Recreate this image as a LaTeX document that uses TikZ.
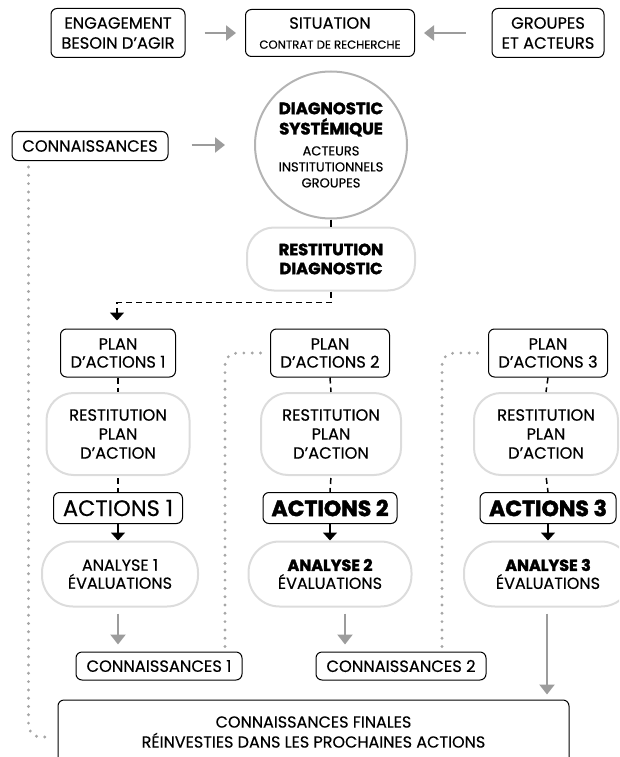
\documentclass[tikz,border=0pt]{standalone}
\usepackage{fontspec}
\setmainfont{Poppins}[UprightFeatures={FakeBold=0.4}, BoldFeatures={FakeBold=2}]
\usetikzlibrary{arrows.meta,shapes.geometric}
\definecolor{arrgray}{HTML}{9C9C9C}
\definecolor{dotgray}{HTML}{A6A6A6}
\definecolor{ringgray}{HTML}{B4B4B4}
\definecolor{softgray}{HTML}{DCDCDC}
\begin{document}
\begin{tikzpicture}[x=1pt,y=-1pt,
  bbox/.style={draw=black, line width=1pt, rounded corners=6pt, align=center, inner sep=0pt, font=\fontsize{16.3}{20}\selectfont},
  lbox/.style={draw=softgray, line width=2pt, rounded corners=27pt, align=center, inner sep=0pt, font=\fontsize{16.3}{19}\selectfont},
  ring/.style={ellipse, draw=ringgray, line width=2pt, align=center, inner sep=0pt},
  grayarrow/.style={draw=arrgray, line width=2.4pt, -{Triangle[length=10pt,width=15pt]}},
  blackarrow/.style={draw=black, line width=1.5pt, -{Triangle[length=8pt,width=14pt]}},
  dashline/.style={draw=black, line width=1.5pt, dash pattern=on 6pt off 4pt},
  dotline/.style={draw=dotgray, line width=3.2pt, dash pattern=on 0pt off 8.3pt, line cap=round, rounded corners=12pt}
]
\useasboundingbox (0,0) rectangle (619,757);
\clip (0,0) rectangle (619,757);

% top row
\node[bbox, minimum width=134pt, minimum height=49pt] (eng) at (118,33) {ENGAGEMENT\\BESOIN D’AGIR};
\node[bbox, minimum width=169pt, minimum height=47pt] (sit) at (330,33) {SITUATION\\\fontsize{11.7}{12}\selectfont CONTRAT DE RECHERCHE};
\node[bbox, minimum width=112pt, minimum height=49pt] (grp) at (548,33) {GROUPES\\ET ACTEURS};

% diagnostic
\node[bbox, minimum width=156pt, minimum height=29pt] (conn) at (90,146) {CONNAISSANCES};
\node[ring, minimum width=152pt, minimum height=147pt, font=\fontsize{13}{16}\selectfont] (diag) at (331,145)
  {\textbf{\fontsize{16.5}{19}\selectfont DIAGNOSTIC}\\[3pt]\textbf{\fontsize{16.5}{19}\selectfont SYSTÉMIQUE}\\[5pt]ACTEURS\\INSTITUTIONNELS\\GROUPES};
\node[lbox, minimum width=168pt, minimum height=63pt, font=\bfseries\fontsize{16.3}{19}\selectfont] (restd) at (331,259) {RESTITUTION\\DIAGNOSTIC};

% columns
\node[bbox, minimum width=115pt, minimum height=48pt, font=\fontsize{16.3}{18}\selectfont] (plan1) at (118,353) {PLAN\\D’ACTIONS 1};
\node[bbox, minimum width=119pt, minimum height=48pt, font=\fontsize{16.3}{18}\selectfont] (plan2) at (330,353) {PLAN\\D’ACTIONS 2};
\node[bbox, minimum width=119pt, minimum height=48pt, font=\fontsize{16.3}{18}\selectfont] (plan3) at (548,353) {PLAN\\D’ACTIONS 3};

\node[lbox, minimum width=143pt, minimum height=82pt] (rest1) at (118,434) {RESTITUTION\\PLAN\\D’ACTION};
\node[lbox, minimum width=140pt, minimum height=82pt] (rest2) at (331,434) {RESTITUTION\\PLAN\\D’ACTION};
\node[lbox, minimum width=144pt, minimum height=82pt] (rest3) at (546,434) {RESTITUTION\\PLAN\\D’ACTION};

\node[bbox, minimum width=129pt, minimum height=31pt, font=\fontsize{22.5}{24}\selectfont] (act1) at (118,508) {ACTIONS 1};
\node[bbox, minimum width=134pt, minimum height=31pt, font=\bfseries\fontsize{22}{24}\selectfont] (act2) at (330,508) {ACTIONS 2};
\node[bbox, minimum width=136pt, minimum height=31pt, font=\bfseries\fontsize{22}{24}\selectfont] (act3) at (548,508) {ACTIONS 3};

\node[lbox, minimum width=156pt, minimum height=65pt, rounded corners=31pt, font=\fontsize{16}{18}\selectfont] (ana1) at (120,574) {ANALYSE 1\\ÉVALUATIONS};
\node[lbox, minimum width=163pt, minimum height=65pt, rounded corners=31pt, font=\fontsize{16}{18}\selectfont] (ana2) at (330,574) {\textbf{ANALYSE 2}\\ÉVALUATIONS};
\node[lbox, minimum width=168pt, minimum height=65pt, rounded corners=31pt, font=\fontsize{16}{18}\selectfont] (ana3) at (548,574) {\textbf{ANALYSE 3}\\ÉVALUATIONS};

\node[bbox, minimum width=166pt, minimum height=28pt, font=\fontsize{16.3}{18}\selectfont] (conn1) at (159,666) {CONNAISSANCES 1};
\node[bbox, minimum width=170pt, minimum height=28pt, font=\fontsize{16.3}{18}\selectfont] (conn2) at (401,666) {CONNAISSANCES 2};

\node[bbox, minimum width=511pt, minimum height=64pt, font=\fontsize{16}{20}\selectfont] (final) at (313.5,732) {CONNAISSANCES FINALES\\RÉINVESTIES DANS LES PROCHAINES ACTIONS};

% connectors: top row
\draw[grayarrow] ([xshift=19pt]eng.east) -- ([xshift=-9pt]sit.west);
\draw[grayarrow] ([xshift=-26pt]grp.west) -- ([xshift=9pt]sit.east);
\draw[grayarrow] ([xshift=23pt,yshift=1pt]conn.east) -- ([xshift=-29pt]diag.west);

% diagnostic chain
\draw[black, line width=1.5pt] (diag.south) -- (restd.north);
\draw[dashline] (restd.south) -- ++(0,11) -| ([xshift=-1pt,yshift=17pt]plan1.north);
\draw[blackarrow] ([xshift=-1pt,yshift=18pt]plan1.north) -- ([xshift=-1pt,yshift=8pt]plan1.north);

% column chains
\foreach \i in {1,2,3}{
  \draw[dashline, dash phase=-10pt] (plan\i.south) -- (rest\i.north);
  \draw[dashline, dash phase=-2pt] (rest\i.south) -- (act\i.north);
}
\draw[blackarrow] (act1.south) -- ([xshift=-2pt]ana1.north);
\draw[blackarrow] (act2.south) -- (ana2.north);
\draw[blackarrow] (act3.south) -- (ana3.north);

% gray arrows down
\draw[grayarrow] ([xshift=-2pt,yshift=-6pt]ana1.south) -- ([xshift=-41pt,yshift=7pt]conn1.north);
\draw[grayarrow] ([xshift=15pt,yshift=-6pt]ana2.south) -- ([xshift=-56pt,yshift=7pt]conn2.north);
\draw[grayarrow] ([xshift=-1pt,yshift=-6pt]ana3.south) -- ([xshift=233.5pt,yshift=5pt]final.north);

% dotted feedback lines
\draw[dotline] ([xshift=17pt,yshift=-6pt]conn.south west) |- ([xshift=-5pt,yshift=-5pt]final.west);
\draw[dotline] ([xshift=66pt,yshift=5pt]conn1.north) |- ([xshift=-6pt]plan2.west);
\draw[dotline] ([xshift=41pt,yshift=5pt]conn2.north) |- ([xshift=-6pt]plan3.west);
\end{tikzpicture}
\end{document}
